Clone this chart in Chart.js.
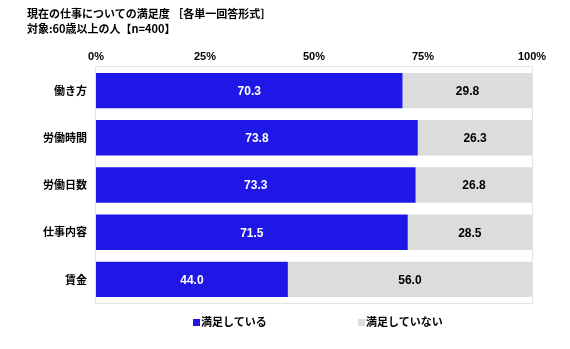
<!DOCTYPE html>
<html lang="ja">
<head>
<meta charset="UTF-8">
<title>現在の仕事についての満足度</title>
<script src="https://cdn.jsdelivr.net/npm/chart.js"></script>
<style>
  body { margin: 0; background: #fff; }
  .wrap { position: relative; width: 570px; height: 349px; }
  .titulo { position: absolute; left: 27px; top: 6px; font: bold 11px "Noto Sans CJK JP", sans-serif; line-height: 15px; color: #000; }
  .legenda { position: absolute; top: 313px; left: 0; width: 570px; font: bold 11px "Noto Sans CJK JP", sans-serif; color: #000; }
  .legenda span { position: absolute; white-space: nowrap; }
  .legenda i { display: inline-block; width: 7px; height: 7px; margin-right: 1px; vertical-align: 0px; }
</style>
</head>
<body>
<div class="wrap">
  <canvas id="grafico" width="570" height="349"></canvas>
  <div class="titulo">現在の仕事についての満足度 ［各単一回答形式］<br>対象:60歳以上の人【n=400】</div>
  <div class="legenda" id="legenda"></div>
</div>
<script>
var categorias = ['働き方', '労働時間', '労働日数', '仕事内容', '賃金'];
var satisfeito = [70.3, 73.8, 73.3, 71.5, 44.0];
var insatisfeito = [29.8, 26.3, 26.8, 28.5, 56.0];
var nomes_series = ['満足している', '満足していない'];
var cores = ['#1f17e6', '#dcdcdc'];
var cores_texto = ['#ffffff', '#000000'];
var ticks_x = [0, 25, 50, 75, 100];

var fonte = '"Liberation Sans", "Noto Sans CJK JP", sans-serif';

// legenda em html
var leg = document.getElementById('legenda');
var pos_leg = [193, 358];
for (var i = 0; i < nomes_series.length; i++) {
  var s = document.createElement('span');
  s.style.left = pos_leg[i] + 'px';
  s.innerHTML = '<i style="background:' + cores[i] + '"></i>' + nomes_series[i];
  leg.appendChild(s);
}

// rotulos dentro das barras + borda da area
const rotulos = {
  id: 'rotulos',
  beforeDatasetsDraw(chart) {
    const a = chart.chartArea, ctx = chart.ctx;
    ctx.save();
    ctx.strokeStyle = '#e4e4e4';
    ctx.lineWidth = 1;
    ctx.strokeRect(a.left - 0.5, a.top - 0.5, a.right - a.left + 1, a.bottom - a.top + 1);
    ctx.restore();
  },
  afterDatasetsDraw(chart) {
    const ctx = chart.ctx;
    ctx.save();
    ctx.font = 'bold 12px ' + fonte;
    ctx.textAlign = 'center';
    ctx.textBaseline = 'middle';
    chart.data.datasets.forEach(function (ds, d) {
      chart.getDatasetMeta(d).data.forEach(function (bar, i) {
        ctx.fillStyle = cores_texto[d];
        var cx = (bar.x + bar.base) / 2;
        ctx.fillText(ds.data[i].toFixed(1), cx, bar.y + 1);
      });
    });
    ctx.restore();
  }
};

new Chart(document.getElementById('grafico'), {
  type: 'bar',
  data: {
    labels: categorias,
    datasets: [
      { label: nomes_series[0], data: satisfeito, backgroundColor: cores[0], borderWidth: 0, categoryPercentage: 0.75, barPercentage: 1 },
      { label: nomes_series[1], data: insatisfeito, backgroundColor: cores[1], borderWidth: 0, categoryPercentage: 0.75, barPercentage: 1 }
    ]
  },
  options: {
    indexAxis: 'y',
    responsive: false,
    animation: false,
    layout: { padding: { top: 20, right: 38, bottom: 46, left: 0 } },
    scales: {
      x: {
        stacked: true,
        position: 'top',
        min: 0,
        max: 100,
        afterBuildTicks: function (scale) { scale.ticks = ticks_x.map(function (v) { return { value: v }; }); },
        afterFit: function (scale) { scale.height = 47; },
        grid: { display: false, drawTicks: false },
        border: { display: false },
        ticks: {
          padding: 3,
          color: '#000',
          font: { family: fonte, size: 11, weight: 'bold' },
          callback: function (v) { return v + '%'; }
        }
      },
      y: {
        stacked: true,
        afterFit: function (scale) { scale.width = 96; },
        grid: { display: false, drawTicks: false },
        border: { display: false },
        ticks: {
          padding: 9,
          color: '#000',
          font: { family: '"Noto Sans CJK JP", sans-serif', size: 11, weight: 'bold' }
        }
      }
    },
    plugins: {
      legend: { display: false },
      tooltip: { enabled: false }
    }
  },
  plugins: [rotulos]
});
</script>
</body>
</html>
